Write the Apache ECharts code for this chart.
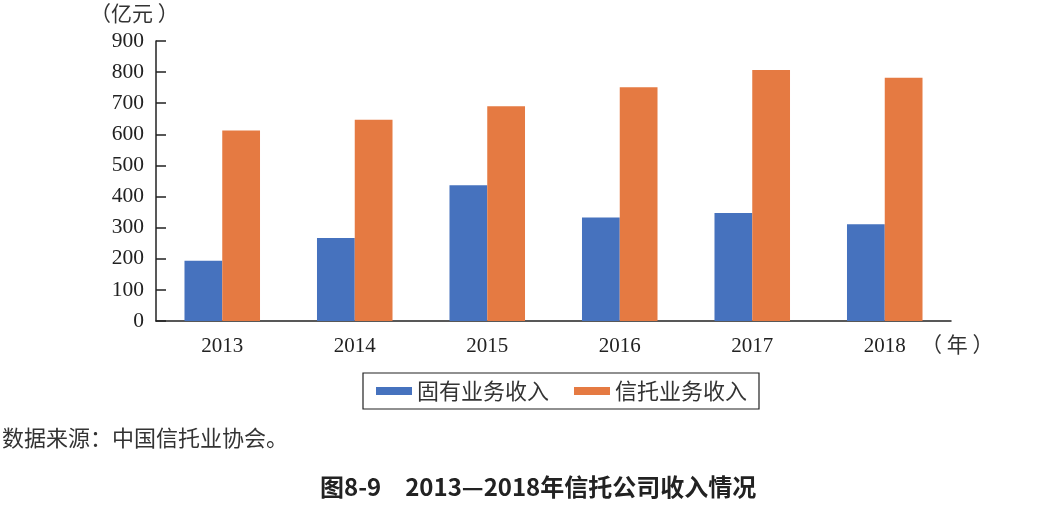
<!DOCTYPE html>
<html>
<head>
<meta charset="utf-8">
<script src="https://cdn.jsdelivr.net/npm/echarts@6/dist/echarts.min.js"></script>
<style>
html,body{margin:0;padding:0;background:#fff;}
#main{width:1052px;height:508px;}
</style>
</head>
<body>
<div id="main"></div>
<script>
const categories = ['2013', '2014', '2015', '2016', '2017', '2018'];
const ownIncome = [194, 267, 436, 333, 347, 311];
const trustIncome = [612, 647, 690, 751, 807, 782];
const seriesNames = ['固有业务收入', '信托业务收入'];
const yTicks = { min: 0, max: 900, interval: 100 };
const yUnit = '（亿元 ）';
const xUnit = '（ 年 ）';
const sourceText = '数据来源：中国信托业协会。';
const titleText = '图8-9　2013—2018年信托公司收入情况';

const serif = '"Liberation Serif", "Times New Roman", serif';
const cjk = '"Noto Sans CJK SC", sans-serif';
const axisColor = '#222';

const chart = echarts.init(document.getElementById('main'), null, { renderer: 'canvas' });
chart.setOption({
  backgroundColor: '#fff',
  animation: false,
  grid: { left: 156, right: 101, top: 41, bottom: 187, containLabel: false },
  legend: {
    data: seriesNames,
    left: 363,
    top: 373,
    icon: 'rect',
    itemWidth: 36,
    itemHeight: 8,
    itemGap: 25,
    padding: [7, 12, 7, 13],
    borderColor: '#222',
    borderWidth: 1.2,
    textStyle: { fontFamily: cjk, fontSize: 22, color: '#333' }
  },
  xAxis: {
    type: 'category',
    data: categories,
    axisLine: { lineStyle: { color: axisColor, width: 1.5 } },
    axisTick: { inside: true, length: 11, lineStyle: { color: axisColor, width: 1.5 } },
    axisLabel: { fontFamily: serif, fontSize: 21, color: '#222', margin: 15 },
    splitLine: { show: false }
  },
  yAxis: {
    type: 'value',
    min: yTicks.min,
    max: yTicks.max,
    interval: yTicks.interval,
    axisLine: { show: true, lineStyle: { color: axisColor, width: 1.5 } },
    axisTick: { show: true, inside: true, length: 10, lineStyle: { color: axisColor, width: 1.5 } },
    axisLabel: { fontFamily: serif, fontSize: 21.5, color: '#222', margin: 12 },
    splitLine: { show: false }
  },
  series: [
    {
      name: seriesNames[0],
      type: 'bar',
      data: ownIncome,
      barWidth: '28.5%',
      barGap: '0%',
      itemStyle: { color: '#4672BE' }
    },
    {
      name: seriesNames[1],
      type: 'bar',
      data: trustIncome,
      barWidth: '28.5%',
      barGap: '0%',
      itemStyle: { color: '#E57A42' }
    }
  ],
  graphic: [
    {
      type: 'text', left: 90, top: 3,
      style: { text: yUnit, fontFamily: cjk, fontSize: 21, fill: '#333' }
    },
    {
      type: 'text', left: 921, top: 334,
      style: { text: xUnit, fontFamily: cjk, fontSize: 21, fill: '#333' }
    },
    {
      type: 'text', left: 2, top: 427,
      style: { text: sourceText, fontFamily: cjk, fontSize: 22, fill: '#333' }
    },
    {
      type: 'text', left: 320, top: 475,
      style: { text: titleText, fontFamily: cjk, fontSize: 24, fontWeight: 'bold', fill: '#222' }
    }
  ]
});
</script>
</body>
</html>
